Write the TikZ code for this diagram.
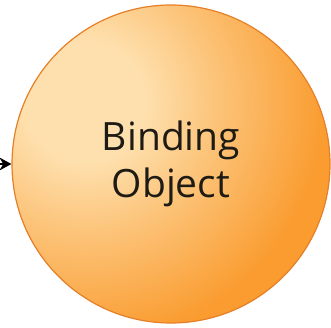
\documentclass[tikz,border=0pt]{standalone}
\usepackage{fontspec}
\setmainfont{Open Sans}
\usetikzlibrary{arrows.meta}
\definecolor{ballhi}{RGB}{254,224,174}
\definecolor{ballmid}{RGB}{252,196,122}
\definecolor{ballorange}{RGB}{250,156,48}
\definecolor{ballrim}{RGB}{230,128,40}
\definecolor{balltext}{RGB}{30,26,20}
\pgfdeclareradialshading{ballshade}{\pgfpoint{0bp}{0bp}}{color(0bp)=(ballhi); color(3bp)=(ballhi); color(6.5bp)=(ballmid); color(12bp)=(ballorange); color(50bp)=(ballorange)}
\tikzset{
  ballnode/.style={circle, draw=ballrim, fill=ballorange, line width=1.2pt,
    minimum size=318pt, inner sep=0pt, align=center, text=balltext,
    font=\fontsize{39pt}{47pt}\selectfont,
    path picture={\shade[shading=ballshade]
      ([shift={(-86pt,62pt)}]path picture bounding box.center) circle (500pt);}},
}
\begin{document}
\begin{tikzpicture}
\useasboundingbox (0pt,0pt) rectangle (331pt,328pt);
\node[ballnode] (binding) at (171pt,164pt) {Binding\\Object};
\coordinate (src) at (0pt,164pt);
\draw[-{Stealth[length=12pt,width=13pt]}, line width=1.5pt] (src) -- (binding.west);
\end{tikzpicture}
\end{document}
